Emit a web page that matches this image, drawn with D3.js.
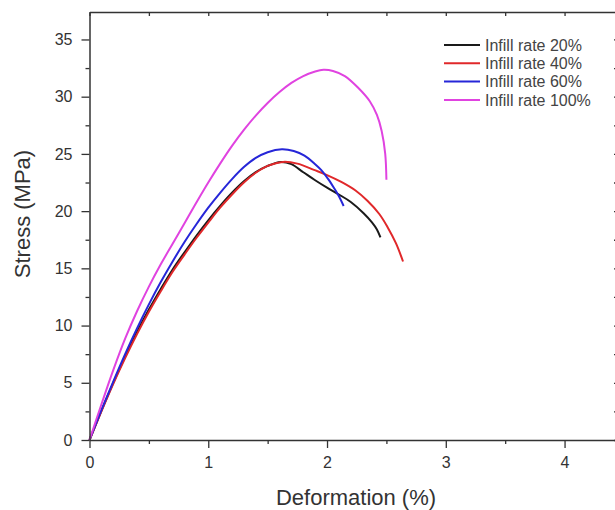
<!DOCTYPE html>
<html>
<head>
<meta charset="utf-8">
<script src="https://cdn.jsdelivr.net/npm/d3@7"></script>
<style>
  body { margin: 0; background: #fff; }
  text { font-family: "Liberation Sans", Arial, sans-serif; }
</style>
</head>
<body>
<div id="chart"></div>
<script>
// series: [deformation %, stress MPa]
const rate20 = [[0,0],[0.1,2.55],[0.2,5.0],[0.3,7.3],[0.4,9.45],[0.5,11.4],[0.6,13.2],[0.7,14.9],[0.8,16.4],[0.9,17.85],[1.0,19.2],[1.1,20.45],[1.2,21.6],[1.3,22.6],[1.4,23.4],[1.5,23.95],[1.61,24.3],[1.7,24.1],[1.8,23.4],[1.9,22.7],[2.0,22.05],[2.1,21.45],[2.2,20.8],[2.31,19.8],[2.38,19.0],[2.42,18.4],[2.45,17.7]]
const rate40 = [[0,0],[0.1,2.5],[0.2,4.9],[0.3,7.15],[0.4,9.25],[0.5,11.2],[0.6,13.0],[0.7,14.7],[0.8,16.2],[0.9,17.65],[1.0,19.0],[1.1,20.3],[1.2,21.45],[1.3,22.5],[1.4,23.35],[1.5,23.95],[1.63,24.3],[1.75,24.15],[1.89,23.6],[2.0,23.15],[2.12,22.55],[2.24,21.8],[2.34,20.9],[2.44,19.75],[2.51,18.6],[2.58,17.2],[2.64,15.6]]
const rate60 = [[0,0],[0.1,2.6],[0.2,5.1],[0.3,7.5],[0.4,9.75],[0.5,11.85],[0.6,13.8],[0.7,15.6],[0.8,17.3],[0.9,18.85],[1.0,20.3],[1.1,21.6],[1.2,22.8],[1.3,23.85],[1.4,24.65],[1.5,25.15],[1.62,25.4],[1.72,25.25],[1.81,24.85],[1.9,24.1],[1.95,23.6],[2.01,22.8],[2.06,22.0],[2.1,21.3],[2.14,20.45]]
const rate100 = [[0,0],[0.1,3.1],[0.2,6.1],[0.3,8.85],[0.4,11.25],[0.5,13.4],[0.6,15.35],[0.7,17.15],[0.8,18.95],[0.9,20.75],[1.0,22.5],[1.1,24.15],[1.2,25.7],[1.3,27.1],[1.4,28.35],[1.5,29.45],[1.6,30.4],[1.7,31.2],[1.8,31.8],[1.9,32.2],[1.97,32.35],[2.05,32.25],[2.15,31.8],[2.26,30.8],[2.36,29.6],[2.42,28.4],[2.46,27.0],[2.49,25.0],[2.5,22.75]]
const seriesNames = ["Infill rate 20%", "Infill rate 40%", "Infill rate 60%", "Infill rate 100%"]
const seriesColors = ["#1a1a1a", "#e0282a", "#2626d8", "#e043e0"]
const xTicks = [0, 1, 2, 3, 4]
const yTicks = [0, 5, 10, 15, 20, 25, 30, 35]

const width = 615, height = 510
const margin = { top: 12, right: -3, bottom: 70, left: 89.5 }
const axisColor = "#333"

const x = d3.scaleLinear().domain([0, 4.45]).range([margin.left, width - margin.right])
const y = d3.scaleLinear().domain([0, 37.4]).range([height - margin.bottom, margin.top])

const svg = d3.select("#chart").append("svg")
  .attr("width", width).attr("height", height)

// curves
const line = d3.line().x(d => x(d[0])).y(d => y(d[1])).curve(d3.curveCatmullRom.alpha(0.5))
const allSeries = [rate20, rate40, rate60, rate100]
svg.append("g")
  .selectAll("path")
  .data(allSeries)
  .join("path")
  .attr("fill", "none")
  .attr("stroke", (d, i) => seriesColors[i])
  .attr("stroke-width", 2)
  .attr("stroke-linejoin", "round")
  .attr("d", line)

// axes
const minorX = d3.range(0.5, 4.5, 1)
const minorY = d3.range(2.5, 37.5, 5)

function styleAxis(g) {
  g.select(".domain").attr("stroke", axisColor).attr("stroke-width", 1.5)
  g.selectAll(".tick line").attr("stroke", axisColor).attr("stroke-width", 1.3)
  g.selectAll(".tick text").attr("fill", axisColor).style("font-size", "16px")
}

svg.append("g")
  .attr("transform", `translate(0,${y(0)})`)
  .call(d3.axisBottom(x).tickValues(xTicks).tickFormat(d3.format("d")).tickSize(8).tickPadding(9).tickSizeOuter(0))
  .call(styleAxis)
svg.append("g")
  .attr("transform", `translate(0,${y(0)})`)
  .call(d3.axisBottom(x).tickValues(minorX).tickSize(4).tickFormat("").tickSizeOuter(0))
  .call(styleAxis)
  .call(g => g.select(".domain").remove())

svg.append("g")
  .attr("transform", `translate(${x(0)},0)`)
  .call(d3.axisLeft(y).tickValues(yTicks).tickSize(8).tickPadding(9).tickSizeOuter(0))
  .call(styleAxis)
svg.append("g")
  .attr("transform", `translate(${x(0)},0)`)
  .call(d3.axisLeft(y).tickValues(minorY).tickSize(4).tickFormat("").tickSizeOuter(0))
  .call(styleAxis)
  .call(g => g.select(".domain").remove())

// mirrored top and right axes, ticks inward
svg.append("g")
  .attr("transform", `translate(0,${y.range()[1]})`)
  .call(d3.axisBottom(x).tickValues(xTicks.concat(minorX)).tickSize(4).tickFormat("").tickSizeOuter(0))
  .call(styleAxis)
svg.append("g")
  .attr("transform", `translate(${x.range()[1]},0)`)
  .call(d3.axisLeft(y).tickValues(yTicks.concat(minorY)).tickSize(4).tickFormat("").tickSizeOuter(0))
  .call(styleAxis)

// axis titles
svg.append("text")
  .attr("x", 356).attr("y", 505)
  .attr("text-anchor", "middle")
  .attr("fill", axisColor)
  .style("font-size", "22px")
  .text("Deformation (%)")
svg.append("text")
  .attr("transform", "translate(30,214) rotate(-90)")
  .attr("text-anchor", "middle")
  .attr("fill", axisColor)
  .style("font-size", "22px")
  .text("Stress (MPa)")

// legend
const legend = svg.append("g").attr("transform", "translate(444,45)")
const item = legend.selectAll("g")
  .data(seriesNames)
  .join("g")
  .attr("transform", (d, i) => `translate(0,${i * 18.3})`)
item.append("line")
  .attr("x1", 0).attr("x2", 36)
  .attr("stroke", (d, i) => seriesColors[i])
  .attr("stroke-width", 2)
item.append("text")
  .attr("x", 41).attr("dy", "0.35em")
  .attr("fill", "#444")
  .style("font-size", "16px")
  .text(d => d)
</script>
</body>
</html>
